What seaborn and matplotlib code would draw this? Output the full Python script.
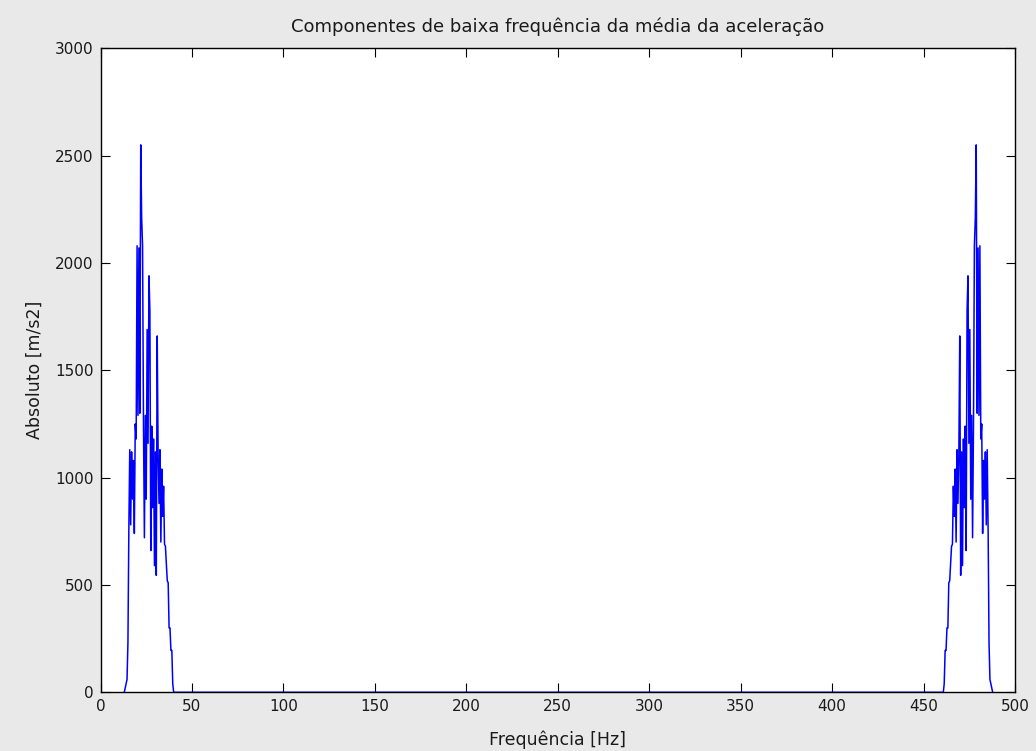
import numpy as np
import pandas as pd
import matplotlib
matplotlib.use("Agg")
import matplotlib.pyplot as plt
import seaborn as sns

# Low-frequency band of the acceleration spectrum (magnitude, m/s2)
freq_step = 0.5
low_start = 13.0    # first bin of the low band [Hz]
high_start = 460.8  # first bin of the mirrored band [Hz]

low_band = [
    0, 20, 40, 60, 230, 760, 1130, 780, 1120, 900,
    1080, 740, 1250, 1180, 2080, 1290, 2070, 1300, 2550, 2210,
    2080, 1250, 720, 1290, 900, 1690, 1160, 1940, 1780, 660,
    1240, 860, 1180, 590, 1120, 545, 1660, 1110, 880, 1130,
    700, 1040, 820, 960, 690, 680, 600, 520, 510, 300,
    300, 195, 195, 40, 0,
]

high_band = [
    0, 40, 195, 195, 300, 300, 510, 520, 600, 680,
    690, 960, 820, 1040, 700, 1130, 880, 1110, 1660, 545,
    1120, 590, 1180, 860, 1240, 660, 1780, 1940, 1160, 1690,
    900, 1290, 720, 1250, 2080, 2210, 2550, 1300, 2070, 1290,
    2080, 1180, 1250, 740, 1080, 900, 1120, 780, 1130, 760,
    230, 60, 40, 20, 0,
]

x_ticks = [0, 50, 100, 150, 200, 250, 300, 350, 400, 450, 500]
y_ticks = [0, 500, 1000, 1500, 2000, 2500, 3000]

low_freq = low_start + freq_step * np.arange(len(low_band))
high_freq = high_start + freq_step * np.arange(len(high_band))

df = pd.DataFrame({
    "freq": np.concatenate([low_freq, high_freq]),
    "mag": np.concatenate([low_band, high_band]),
})

sns.set_style("white")
plt.rcParams["font.family"] = ["DejaVu Sans"]

bg = "#e9e9e9"
txt = "#1a1a1a"
fig = plt.figure(figsize=(10.36, 7.51), dpi=100, facecolor=bg)
ax = fig.add_axes([100.5 / 1036, 1 - 692.3 / 751, (1015 - 100.5) / 1036, (692.3 - 48.3) / 751])
ax.set_facecolor("white")

sns.lineplot(data=df, x="freq", y="mag", color="#0000ff", linewidth=1.1,
             estimator=None, sort=False, ax=ax, zorder=3)

ax.set_xlim(0, 500)
ax.set_ylim(0, 3000)
ax.set_xticks(x_ticks)
ax.set_yticks(y_ticks)
ax.tick_params(direction="in", length=6.5, width=0.8, color="black",
               top=True, right=True, bottom=True, left=True,
               labelsize=11, pad=5, labelcolor=txt)
for side in ax.spines.values():
    side.set_visible(True)
    side.set_color("black")
    side.set_linewidth(1.0)

ax.set_title("Componentes de baixa frequência da média da aceleração",
             fontsize=13, color=txt, pad=12)
ax.set_xlabel("Frequência [Hz]", fontsize=12.5, color=txt, labelpad=12)
ax.set_ylabel("Absoluto [m/s2]", fontsize=12.5, color=txt, labelpad=8)

fig.savefig("out.png", dpi=100, facecolor=bg)
